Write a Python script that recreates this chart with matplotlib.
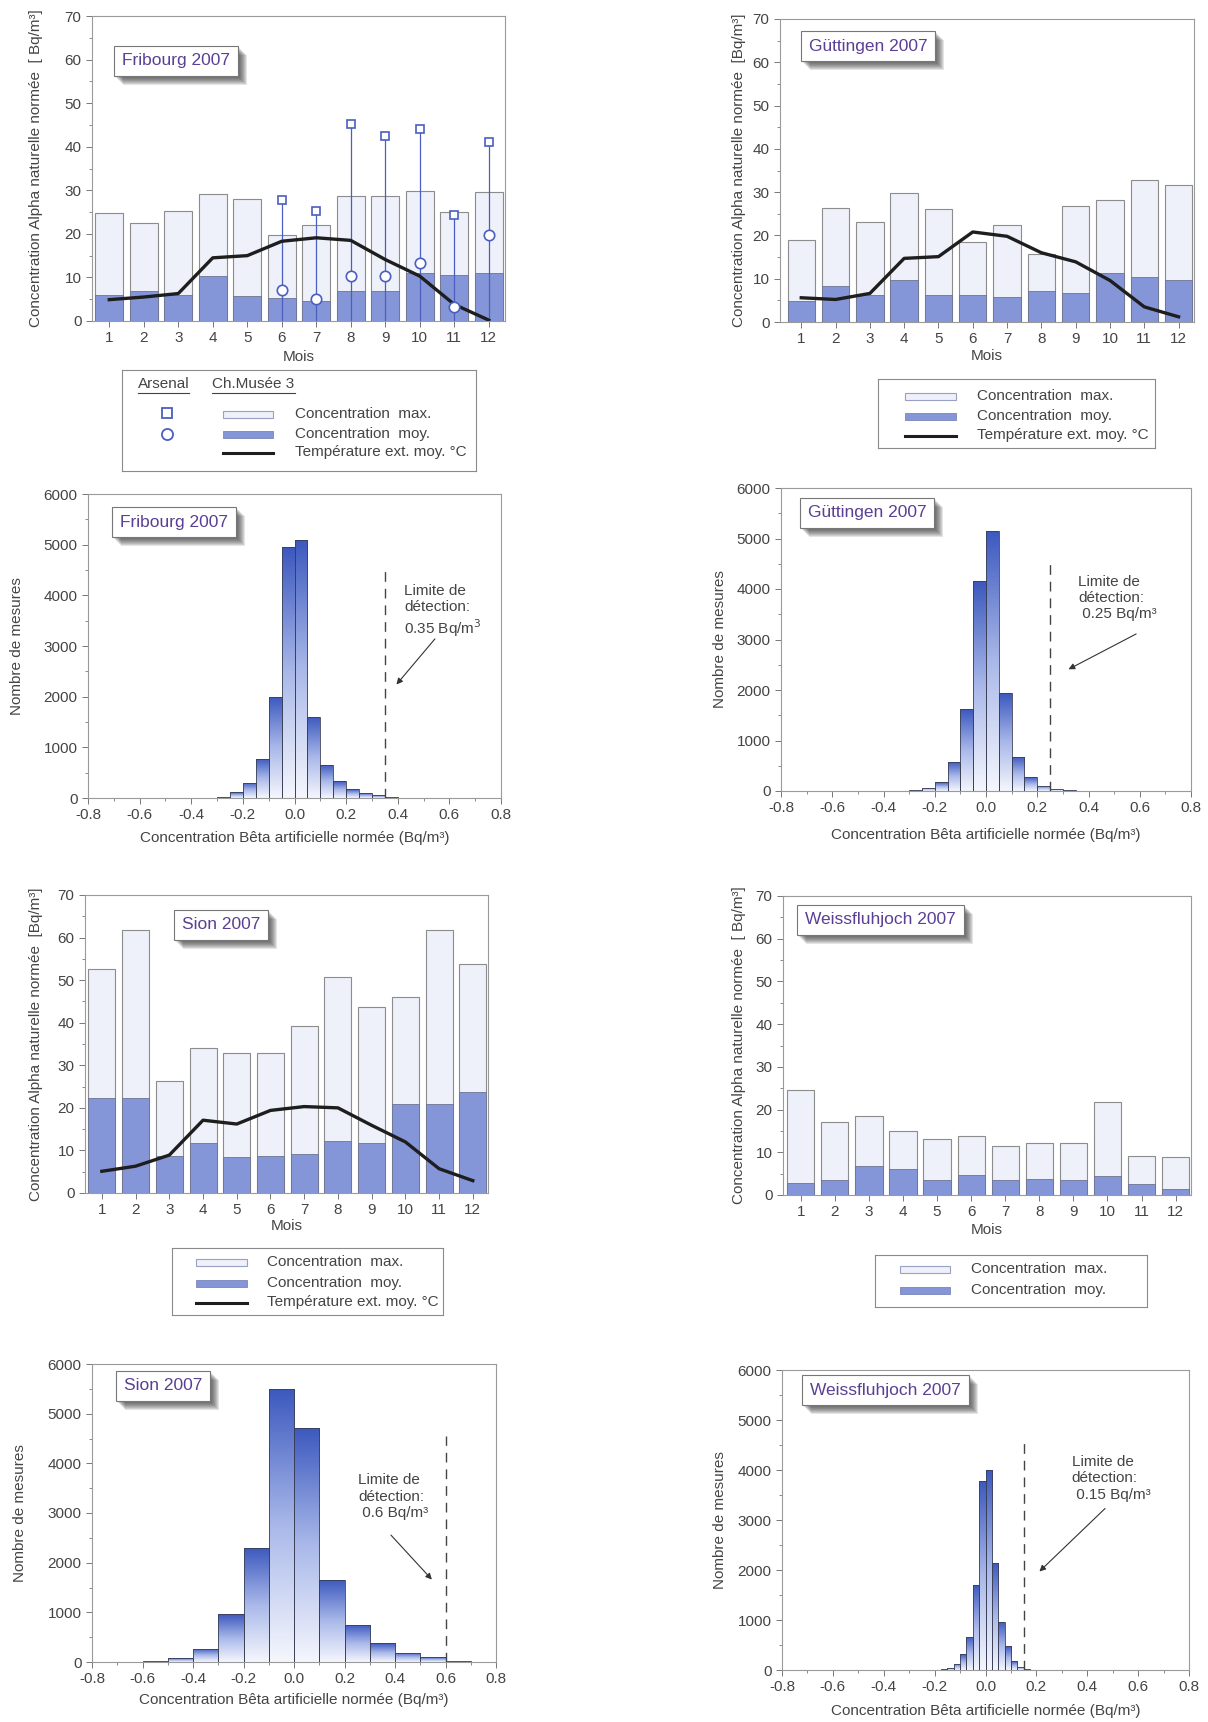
import numpy as np
import matplotlib
matplotlib.use('Agg')
import matplotlib.pyplot as plt
from matplotlib.colors import LinearSegmentedColormap
from matplotlib.patches import Rectangle
from matplotlib.ticker import MultipleLocator
from matplotlib.transforms import IdentityTransform

plt.rcParams['font.family'] = ['Liberation Sans', 'DejaVu Sans']
plt.rcParams['font.size'] = 11
plt.rcParams['text.color'] = '#444444'
plt.rcParams['axes.labelcolor'] = '#444444'
plt.rcParams['xtick.color'] = '#777777'
plt.rcParams['ytick.color'] = '#777777'
plt.rcParams['xtick.labelcolor'] = '#444444'
plt.rcParams['ytick.labelcolor'] = '#444444'

W, H = 1208, 1722

months = list(range(1, 13))

# Alpha naturelle: concentration max / moyenne per month, outdoor temperature
fribourg_max = [24.7, 22.4, 25.3, 29.2, 28.1, 19.8, 22.0, 28.6, 28.6, 29.9, 25.0, 29.6]
fribourg_moy = [5.9, 6.9, 6.0, 10.3, 5.7, 5.2, 4.6, 7.0, 6.8, 11.0, 10.5, 11.1]
fribourg_temp = [4.9, 5.5, 6.3, 14.5, 15.0, 18.3, 19.1, 18.5, 14.1, 10.3, 3.8, 0.2]
arsenal_months = [6, 7, 8, 9, 10, 11, 12]
arsenal_max = [27.8, 25.2, 45.3, 42.4, 44.1, 24.3, 41.0]
arsenal_moy = [7.2, 5.1, 10.4, 10.3, 13.3, 3.2, 19.7]

guttingen_max = [19.0, 26.4, 23.2, 29.7, 26.0, 18.4, 22.4, 15.7, 26.9, 28.2, 32.7, 31.6]
guttingen_moy = [4.9, 8.3, 6.3, 9.6, 6.2, 6.2, 5.8, 7.1, 6.8, 11.4, 10.5, 9.6]
guttingen_temp = [5.6, 5.2, 6.6, 14.7, 15.1, 20.8, 19.8, 16.0, 13.9, 9.6, 3.5, 1.2]

sion_max = [52.7, 61.7, 26.4, 34.0, 32.9, 32.8, 39.2, 50.8, 43.6, 46.0, 61.8, 53.8]
sion_moy = [22.4, 22.3, 8.7, 11.8, 8.4, 8.7, 9.2, 12.3, 11.8, 20.8, 20.8, 23.8]
sion_temp = [5.1, 6.3, 8.9, 17.1, 16.2, 19.4, 20.3, 20.0, 15.9, 12.0, 5.7, 2.9]

weiss_max = [24.6, 17.1, 18.5, 15.1, 13.2, 13.7, 11.5, 12.2, 12.1, 21.7, 9.1, 9.0]
weiss_moy = [2.8, 3.4, 6.9, 6.1, 3.4, 4.6, 3.6, 3.8, 3.4, 4.4, 2.5, 1.4]

# Bêta artificielle: histogram bins (left edges) and counts
fribourg_bins = np.round(np.arange(-0.40, 0.55, 0.05), 3)
fribourg_counts = [3, 6, 15, 110, 300, 770, 2000, 4950, 5100, 1600,
                   660, 330, 170, 90, 50, 20, 8, 4, 2]
guttingen_bins = np.round(np.arange(-0.35, 0.35, 0.05), 3)
guttingen_counts = [3, 10, 60, 170, 580, 1620, 4150, 5150, 1940, 680,
                    270, 100, 40, 15]
sion_bins = np.round(np.arange(-0.6, 0.8, 0.1), 3)
sion_counts = [30, 80, 270, 960, 2300, 5500, 4720, 1660, 750, 380,
               190, 100, 30, 10]
weiss_bins = np.round(np.arange(-0.2, 0.225, 0.025), 4)
weiss_counts = [5, 15, 40, 130, 320, 660, 1700, 3780, 4000, 2150,
                970, 480, 180, 70, 25, 10, 4]

detection_limits = {'Fribourg': 0.35, 'Güttingen': 0.25, 'Sion': 0.6, 'Weissfluhjoch': 0.15}

MAX_FILL = '#eef0fa'
MOY_FILL = '#8495d8'
MARK_BLUE = '#4a5fc0'
TITLE_COLOR = '#5a3f94'
SPINE = '#9a9a9a'
grad_cmap = LinearSegmentedColormap.from_list('beta', ['#f5f7fd', '#a9b8e9', '#3b58be'])

title_boxes = []


def px_axes(fig, left, top, right, bottom):
    return fig.add_axes([left / W, 1 - bottom / H, (right - left) / W, (bottom - top) / H])


def style_axes(ax):
    for sp in ax.spines.values():
        sp.set_color(SPINE)
        sp.set_linewidth(0.8)
    ax.tick_params(which='major', direction='out', length=4, width=0.7, labelsize=11)
    ax.tick_params(which='minor', direction='out', length=2.5, width=0.6)


def place_labels(ax, box, xlabel, ylabel, xlabel_y, ylabel_x):
    left, top, right, bottom = box
    ax.set_xlabel(xlabel, fontsize=11)
    ax.set_ylabel(ylabel, fontsize=11)
    ax.xaxis.set_label_coords(0.5, -(xlabel_y - 8 - bottom) / (bottom - top))
    ax.yaxis.set_label_coords((ylabel_x + 8 - left) / (right - left), 0.5)


def title_box(ax, text, dx, dy):
    ann = ax.annotate(text, xy=(0, 1), xycoords='axes fraction', xytext=(dx, -dy),
                      textcoords='offset pixels', va='center', ha='left', fontsize=12.5,
                      color=TITLE_COLOR, zorder=9,
                      bbox=dict(boxstyle='square,pad=0.45', fc='white', ec='#777777', lw=0.8))
    title_boxes.append((ax, ann))


def draw_shadows(fig):
    # soft drop shadow under each station title box
    fig.canvas.draw()
    renderer = fig.canvas.get_renderer()
    for ax, ann in title_boxes:
        bb = ann.get_bbox_patch().get_window_extent(renderer)
        for k in range(2, 10):
            ax.add_patch(Rectangle((bb.x0 + k, bb.y0 - k), bb.width, bb.height,
                                   transform=IdentityTransform(), fc='#333333', ec='none',
                                   alpha=0.13, zorder=8, clip_on=False))


def draw_alpha(ax, c_max, c_moy, temp, xlim):
    ax.bar(months, c_max, 0.8, color=MAX_FILL, edgecolor='#8c8c8c', linewidth=0.8, zorder=2)
    ax.bar(months, c_moy, 0.8, color=MOY_FILL, edgecolor='#6d7390', linewidth=0.6, zorder=3)
    if temp is not None:
        ax.plot(months, temp, color='#1e1e1e', linewidth=2.4, zorder=6)
    ax.set_xlim(*xlim)
    ax.set_ylim(0, 70)
    ax.set_xticks(months)
    ax.yaxis.set_major_locator(MultipleLocator(10))
    ax.yaxis.set_minor_locator(MultipleLocator(5))
    style_axes(ax)


def draw_hist(ax, bins, counts, width, limit, note, note_xy, arrow_tail, arrow_head):
    bars = ax.bar(bins, counts, width, align='edge', color='none',
                  edgecolor='#3a3f55', linewidth=0.6, zorder=3)
    grad = np.linspace(1, 0, 256).reshape(-1, 1)
    for left, h, patch in zip(bins, counts, bars):
        im = ax.imshow(grad, extent=[left, left + width, 0, h], cmap=grad_cmap,
                       vmin=0, vmax=1, aspect='auto', zorder=2)
        im.set_clip_path(patch)
    ax.plot([limit, limit], [0, 4550], color='#444444', linewidth=1.0,
            linestyle=(0, (7, 5)), zorder=4)
    ax.text(note_xy[0], note_xy[1], note, fontsize=11, ha='left', va='center',
            linespacing=1.2, color='#444444')
    ax.annotate('', xy=arrow_head, xytext=arrow_tail,
                arrowprops=dict(arrowstyle='-|>', color='#333333', lw=0.8,
                                mutation_scale=9, shrinkA=0, shrinkB=0))
    ax.set_xlim(-0.8, 0.8)
    ax.set_ylim(0, 6000)
    ax.xaxis.set_major_locator(MultipleLocator(0.2))
    ax.xaxis.set_minor_locator(MultipleLocator(0.1))
    ax.xaxis.set_major_formatter(lambda v, p: f'{v:.1f}')
    ax.yaxis.set_major_locator(MultipleLocator(1000))
    ax.yaxis.set_minor_locator(MultipleLocator(500))
    style_axes(ax)


def legend_panel(fig, left, top, right, bottom):
    lax = px_axes(fig, left, top, right, bottom)
    lax.set_xlim(0, right - left)
    lax.set_ylim(bottom - top, 0)
    lax.set_xticks([])
    lax.set_yticks([])
    for sp in lax.spines.values():
        sp.set_color('#8a8a8a')
        sp.set_linewidth(0.8)
    return lax


def legend_rows(lax, x0, x1, xt, rows, with_temp=True):
    labels = ['Concentration  max.', 'Concentration  moy.', 'Température ext. moy. °C']
    lax.add_patch(Rectangle((x0, rows[0] - 3.5), x1 - x0, 7, fc=MAX_FILL, ec='#9aa0c0', lw=0.8))
    lax.add_patch(Rectangle((x0, rows[1] - 3.5), x1 - x0, 7, fc=MOY_FILL, ec='#7a84b8', lw=0.6))
    n = 3 if with_temp else 2
    if with_temp:
        lax.plot([x0, x1], [rows[2] + 1, rows[2] + 1], color='#1e1e1e', lw=2.2)
    for i in range(n):
        lax.text(xt, rows[i], labels[i], fontsize=11, va='center', ha='left', color='#444444')


fig = plt.figure(figsize=(W / 100, H / 100), dpi=100)

# Fribourg alpha
box = (92, 16, 505, 321)
ax = px_axes(fig, *box)
draw_alpha(ax, fribourg_max, fribourg_moy, fribourg_temp, (0.5, 12.47))
ax.vlines(arsenal_months, 0, arsenal_max, color=MARK_BLUE, linewidth=0.9, zorder=4)
ax.plot(arsenal_months, arsenal_max, 's', ms=6, mfc='white', mec=MARK_BLUE, mew=1.2, zorder=7)
ax.plot(arsenal_months, arsenal_moy, 'o', ms=7.5, mfc='white', mec=MARK_BLUE, mew=1.2, zorder=7)
place_labels(ax, box, 'Mois', 'Concentration Alpha naturelle normée  [ Bq/m³]', 358, 35)
title_box(ax, 'Fribourg 2007', 30, 45)

lax = legend_panel(fig, 122, 370, 476, 471)
lax.text(16, 14, 'Arsenal', fontsize=11, va='center', ha='left')
lax.text(90, 14, 'Ch.Musée 3', fontsize=11, va='center', ha='left')
lax.plot([16, 67], [23, 23], color='#444444', lw=0.8)
lax.plot([90, 173], [23, 23], color='#444444', lw=0.8)
lax.plot([45], [43], 's', ms=7, mfc='white', mec=MARK_BLUE, mew=1.3)
lax.plot([45], [64], 'o', ms=8, mfc='white', mec=MARK_BLUE, mew=1.3)
legend_rows(lax, 101, 151, 173, [44, 64, 82])

# Güttingen alpha
box = (780, 19, 1194, 322)
ax = px_axes(fig, *box)
draw_alpha(ax, guttingen_max, guttingen_moy, guttingen_temp, (0.38, 12.45))
place_labels(ax, box, 'Mois', 'Concentration Alpha naturelle normée  [Bq/m³]', 357, 738)
title_box(ax, 'Güttingen 2007', 29, 27)

lax = legend_panel(fig, 878, 379, 1155, 448)
legend_rows(lax, 27, 78, 99, [17, 37, 56])

# Fribourg beta
box = (88, 494, 501, 798)
ax = px_axes(fig, *box)
draw_hist(ax, fribourg_bins, fribourg_counts, 0.05, detection_limits['Fribourg'],
          'Limite de\ndétection:\n0.35 Bq/m$^3$', (0.425, 3680), (0.544, 3140), (0.395, 2240))
place_labels(ax, box, 'Concentration Bêta artificielle normée (Bq/m³)', 'Nombre de mesures', 839, 16)
title_box(ax, 'Fribourg 2007', 32, 28)

# Güttingen beta
box = (781, 488, 1191, 791)
ax = px_axes(fig, *box)
draw_hist(ax, guttingen_bins, guttingen_counts, 0.05, detection_limits['Güttingen'],
          'Limite de\ndétection:\n 0.25 Bq/m³', (0.359, 3820), (0.586, 3110), (0.322, 2410))
place_labels(ax, box, 'Concentration Bêta artificielle normée (Bq/m³)', 'Nombre de mesures', 836, 719)
title_box(ax, 'Güttingen 2007', 27, 25)

# Sion alpha
box = (85, 895, 488, 1193)
ax = px_axes(fig, *box)
draw_alpha(ax, sion_max, sion_moy, sion_temp, (0.5, 12.45))
place_labels(ax, box, 'Mois', 'Concentration Alpha naturelle normée  [Bq/m³]', 1227, 35)
title_box(ax, 'Sion 2007', 97, 30)

lax = legend_panel(fig, 172, 1248, 443, 1315)
legend_rows(lax, 24, 75, 95, [14, 35, 54])

# Weissfluhjoch alpha
box = (783, 896, 1191, 1195)
ax = px_axes(fig, *box)
draw_alpha(ax, weiss_max, weiss_moy, None, (0.48, 12.45))
place_labels(ax, box, 'Mois', 'Concentration Alpha naturelle normée  [ Bq/m³]', 1231, 738)
title_box(ax, 'Weissfluhjoch 2007', 22, 24)

lax = legend_panel(fig, 875, 1255, 1147, 1307)
legend_rows(lax, 25, 75, 96, [14, 35], with_temp=False)

# Sion beta
box = (92, 1364, 496, 1662)
ax = px_axes(fig, *box)
draw_hist(ax, sion_bins, sion_counts, 0.1, detection_limits['Sion'],
          'Limite de\ndétection:\n 0.6 Bq/m³', (0.253, 3330), (0.384, 2555), (0.546, 1660))
place_labels(ax, box, 'Concentration Bêta artificielle normée (Bq/m³)', 'Nombre de mesures', 1701, 19)
title_box(ax, 'Sion 2007', 32, 22)

# Weissfluhjoch beta
box = (782, 1370, 1189, 1670)
ax = px_axes(fig, *box)
draw_hist(ax, weiss_bins, weiss_counts, 0.025, detection_limits['Weissfluhjoch'],
          'Limite de\ndétection:\n 0.15 Bq/m³', (0.339, 3830), (0.470, 3230), (0.212, 1970))
place_labels(ax, box, 'Concentration Bêta artificielle normée (Bq/m³)', 'Nombre de mesures', 1712, 719)
title_box(ax, 'Weissfluhjoch 2007', 28, 20)

draw_shadows(fig)
fig.savefig('out.png', dpi=100)
